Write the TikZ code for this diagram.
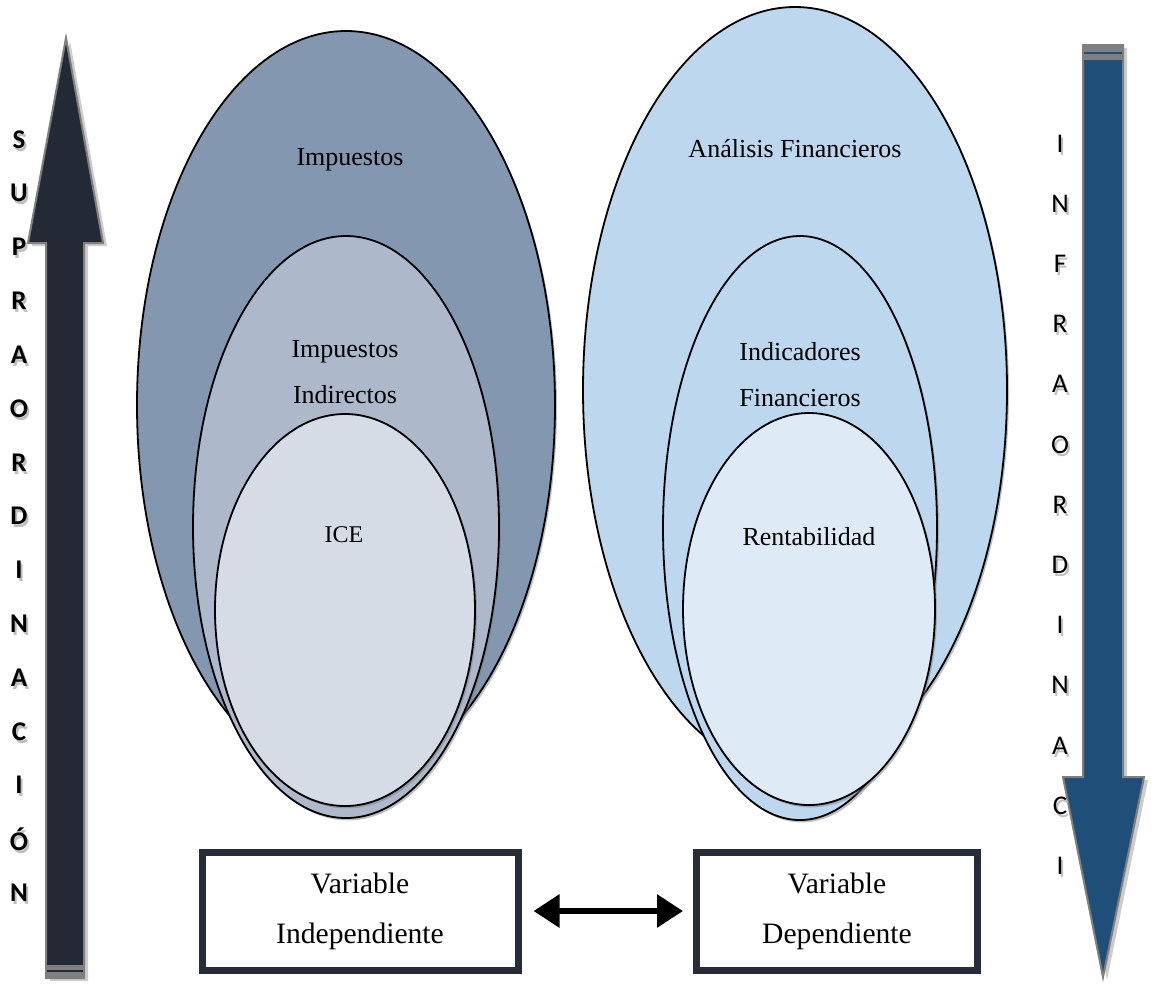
\documentclass[tikz,border=0pt]{standalone}
\usepackage{fontspec}
\setmainfont{Liberation Serif}
\newfontfamily\calibri{Carlito}
\usepackage{xcolor}
\usetikzlibrary{positioning, arrows.meta, calc, shapes.geometric, shadows}

\definecolor{impA}{HTML}{8497B0}
\definecolor{impB}{HTML}{ADB9CA}
\definecolor{impC}{HTML}{D6DCE5}
\definecolor{finA}{HTML}{BDD7EE}
\definecolor{finC}{HTML}{DEEBF7}
\definecolor{flechaI}{HTML}{222A35}
\definecolor{flechaD}{HTML}{1F4E79}
\definecolor{borde}{HTML}{7F7F7F}
\definecolor{cajaborde}{HTML}{262D38}

\newcommand{\sombra}[1]{\rlap{\kern1pt\raisebox{-1.5pt}{\textcolor{black!25}{#1}}}#1}

\begin{document}
\begin{tikzpicture}[x=0.5pt, y=-0.5pt,
  oval/.style={ellipse, draw, line width=0.9pt, inner sep=0pt,
    drop shadow={shadow xshift=1pt, shadow yshift=-1.2pt, fill=black!50, opacity=.5}},
  etiqueta/.style={anchor=base, align=center, inner sep=0pt, font=\fontsize{13}{23}\selectfont},
  caja/.style={draw=cajaborde, line width=3.5pt, fill=white, align=center,
    minimum height=59pt, font=\fontsize{14.8}{25}\selectfont},
  letra/.style={inner sep=0pt, font=\calibri\fontsize{13.5}{15}\selectfont},
  letrab/.style={inner sep=0pt, font=\calibri\bfseries\fontsize{13.5}{15}\selectfont},
  bloque/.style={draw=borde, line width=1pt,
    drop shadow={shadow xshift=2pt, shadow yshift=-1.5pt, fill=black!40, opacity=.5}},
  arrow/.style={{Triangle[length=13pt, width=16pt]}-{Triangle[length=13pt, width=16pt]}, line width=3pt}
]
\useasboundingbox (0,0) rectangle (1154,987);

\draw[bloque, fill=flechaI] (46,978) -- (46,243) -- (28,243) -- (66,38) -- (103,243) -- (84,243) -- (84,978) -- cycle;
\fill[borde] (46,965) rectangle (84,978);
\draw[flechaI, line width=1pt] (47,971) -- (83,971);

\draw[bloque, fill=flechaD] (1083,45) -- (1123,45) -- (1123,777) -- (1144,777) -- (1103,977) -- (1063,777) -- (1083,777) -- cycle;
\fill[borde] (1083,45) rectangle (1123,60);
\draw[flechaD, line width=1pt] (1084,53) -- (1122,53);

\foreach \l [count=\i from 0] in {S,U,P,R,A,O,R,D,I,N,A,C,I,Ó,N}
  \node[letrab] (sup\i) at (19,{141+53.8*\i}) {\sombra{\l}};
\foreach \l [count=\i from 0] in {I,N,F,R,A,O,R,D,I,N,A,C,I}
  \node[letra] (inf\i) at (1060,{145+60.2*\i}) {\sombra{\l}};

\node[oval, fill=impA, minimum width=209pt, minimum height=374pt] (imp) at (346,405) {};
\node[oval, fill=impB, minimum width=153pt, minimum height=291pt] (ind) at (346,527) {};
\node[oval, fill=impC, minimum width=130pt, minimum height=196pt] (ice) at (345,610) {};

\node[oval, fill=finA, minimum width=212pt, minimum height=383pt] (ana) at (795,390) {};
\node[oval, fill=finA, minimum width=137pt, minimum height=292pt] (indf) at (800,528) {};
\node[oval, fill=finC, minimum width=126pt, minimum height=196pt] (rent) at (809,609) {};

\node[etiqueta] (timp) at (350,165) {Impuestos};
\node[etiqueta] (tind) at (345,403) {Impuestos\\Indirectos};
\node[etiqueta, font=\fontsize{12}{14}\selectfont] (tice) at (344,542) {ICE};
\node[etiqueta] (tana) at (795,157) {Análisis Financieros};
\node[etiqueta] (tindf) at (800,406) {Indicadores\\Financieros};
\node[etiqueta] (trent) at (809,545) {Rentabilidad};

\node[caja, minimum width=158pt] (vi) at (360,911) {Variable\\Independiente};
\node[caja, minimum width=140.5pt] (vd) at (837,911) {Variable\\Dependiente};

\draw[arrow, shorten <=6pt, shorten >=5pt] (vi.east) -- (vd.west);
\end{tikzpicture}
\end{document}
